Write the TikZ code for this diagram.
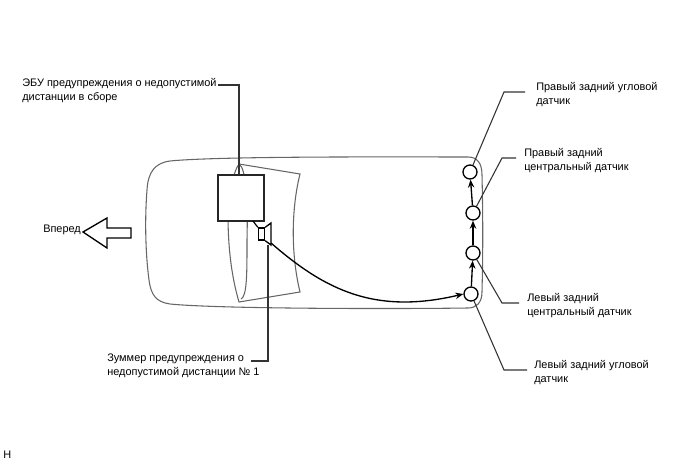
\documentclass[tikz,border=0pt]{standalone}
\usepackage{fontspec}
\setmainfont{Liberation Sans}
\usetikzlibrary{arrows.meta,positioning}

\begin{document}
\begin{tikzpicture}[
x=0.75pt,
y=-0.75pt,
>={Stealth[length=6pt,width=4.8pt]},
body/.style={
draw=black!60,
line width=0.8pt
},
leader/.style={
draw=black!80,
line width=0.8pt
},
unit/.style={
rectangle,
draw=black!85,
fill=white,
line width=1.4pt,
inner sep=0pt,
minimum size=34.5pt
},
sensor/.style={
circle,
draw=black,
line width=1pt,
fill=white,
inner sep=0pt,
minimum size=10.5pt
},
ptext/.style={
draw=none,
fill=none,
color=black,
anchor=west,
align=left,
inner sep=0pt,
font=\fontsize{8.2}{10.5}\selectfont
}]

\useasboundingbox (0,0) rectangle (688,463);

% car outline
\draw[body] (170,161) .. controls (220,156) and (400,157) .. (468,157)
  .. controls (477,157) and (482,163) .. (482,175)
  .. controls (483,220) and (483,250) .. (482,292)
  .. controls (482,303) and (476,308) .. (468,308)
  .. controls (400,309) and (220,309) .. (170,304)
  .. controls (156,302) and (151,295) .. (149,280)
  .. controls (145,250) and (145,215) .. (147,190)
  .. controls (148,172) and (155,163) .. (170,161);

% rear window
\draw[body] (239,164) -- (300,174) .. controls (291,210) and (291,255) .. (300,292)
  -- (239,302) .. controls (231,275) and (228,245) .. (228,215)
  .. controls (229,195) and (233,172) .. (239,164);
\draw[body] (239,164) .. controls (246,168) and (248,200) .. (247,240)
  .. controls (247,275) and (247,296) .. (241,299);

\node [unit] (ecu) at (241,198) {};

\node [rectangle,draw=black,line width=1pt,inner sep=0pt,minimum width=4.5pt,minimum height=9pt] (buzzer) at (261.5,234) {};
\draw[draw=black,line width=1pt] (buzzer.north east) -- (271,223) -- (271,245) -- (buzzer.south east);

\coordinate (ecutail) at (253,221);
\draw[draw=black,line width=0.9pt] (ecutail) -- (buzzer.north west);

\node [sensor] (rearright) at (470,172) {};
\node [sensor] (centerright) at (473,213) {};
\node [sensor] (centerleft) at (473,253) {};
\node [sensor] (rearleft) at (471,294) {};

\draw[->,line width=1pt] (rearleft) -- (centerleft);
\draw[->,line width=1pt] (centerleft) -- (centerright);
\draw[->,line width=1pt] (centerright) -- (rearright);

\coordinate (buzzertail) at (271,243);
\draw[->,line width=1pt] (buzzertail) .. controls (325,290) and (375,315) .. (rearleft.west);

\node [ptext] (ecutext) at (22,90.5) {ЭБУ предупреждения о недопустимой\\дистанции в сборе};
\node [ptext] (buzzertext) at (107,366) {Зуммер предупреждения о\\недопустимой дистанции № 1};
\node [ptext] (rearrighttext) at (536,95) {Правый задний угловой\\датчик};
\node [ptext] (centerrighttext) at (524,161) {Правый задний\\центральный датчик};
\node [ptext] (centerlefttext) at (527,305.5) {Левый задний\\центральный датчик};
\node [ptext] (rearlefttext) at (534,372.5) {Левый задний угловой\\датчик};
\node [ptext] (fronttext) at (43,229.5) {Вперед};
\node [ptext] (mark) at (3,455) {H};

\coordinate (ecuend) at (218,85);
\coordinate (ecubend) at (239,85);
\coordinate (buzzerend) at (251,361);
\coordinate (rearrightend) at (525,92);
\coordinate (centerrightend) at (516,158);
\coordinate (centerleftend) at (519,303);
\coordinate (rearleftend) at (527,370);

\draw[leader] (ecuend) -- (ecubend) -- (ecubend |- ecu.north);
\draw[leader] (buzzerend) -- (268,361) -- (268,245);
\draw[leader] (rearrightend) -- (504,92) -- (rearright);
\draw[leader] (centerrightend) -- (502,158) -- (centerright);
\draw[leader] (centerleftend) -- (502,303) -- (centerleft);
\draw[leader] (rearleftend) -- (504,370) -- (rearleft);

% direction arrow
\draw[draw=black,line width=1pt] (83,232) -- (107,218) -- (107,228) -- (131,228)
  -- (131,238) -- (107,238) -- (107,248) -- cycle;

\end{tikzpicture}
\end{document}
